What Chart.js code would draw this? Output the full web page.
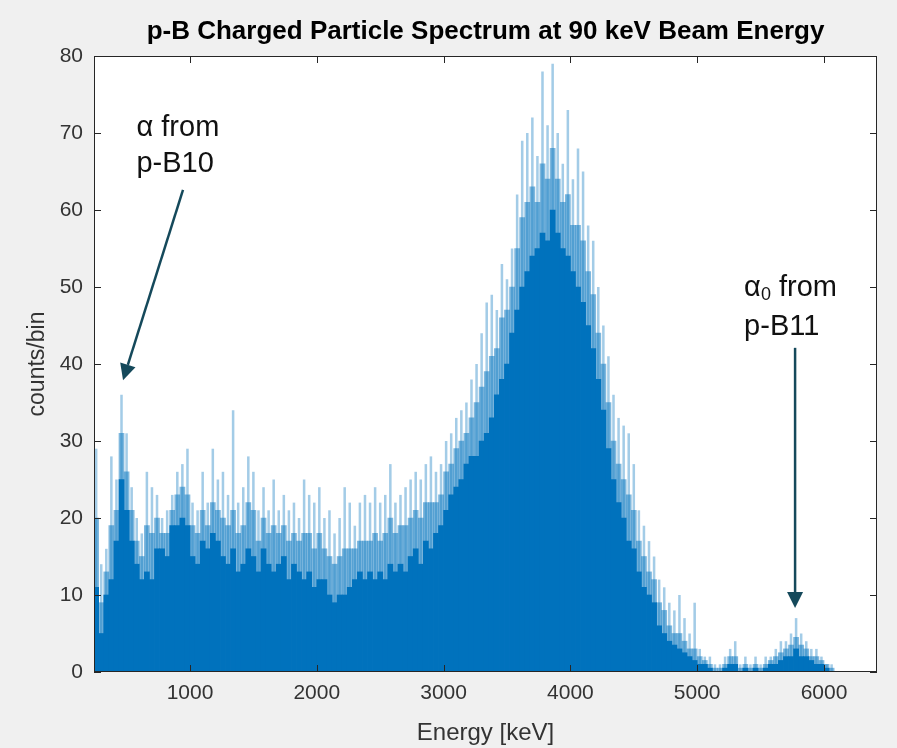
<!DOCTYPE html>
<html>
<head>
<meta charset="utf-8">
<script src="https://cdn.jsdelivr.net/npm/chart.js@4.4.1/dist/chart.umd.min.js"></script>
<style>
  html, body { margin: 0; padding: 0; background: #f0f0f0; }
  #wrap { width: 897px; height: 748px; }
</style>
</head>
<body>
<div id="wrap"><canvas id="spectrum" width="897" height="748"></canvas></div>
<script>
// histogram bins: 40 keV wide, first bin starts at 240 keV
const binStart = 240;
const binWidth = 40;

// solid part of each bin (counts/bin)
const bodyCounts = [
  11, 5, 10, 12, 17, 25, 21, 17, 14, 12, 13, 12, 16, 16, 15, 19, 19, 20, 19, 15,
  14, 17, 16, 18, 17, 15, 14, 16, 13, 14, 16, 15, 13, 16, 14, 13, 14, 15, 12, 14,
  13, 12, 13, 11, 12, 12, 10, 9, 10, 10, 11, 12, 13, 12, 13, 12, 13, 12, 14, 13,
  14, 13, 15, 16, 14, 17, 16, 18, 19, 21, 23, 24, 25, 27, 28, 28, 30, 31, 33, 36,
  38, 40, 44, 47, 50, 52, 54, 55, 57, 56, 60, 57, 55, 54, 52, 50, 48, 45, 42, 38,
  34, 29, 25, 22, 20, 17, 16, 13, 11, 10, 9, 6, 5, 4, 3.5, 3, 2.5, 2, 1.5, 1,
  1, 0.5, 0, 0, 0.5, 1, 1, 0, 0.5, 0, 0.5, 0, 0.5, 1, 1, 1.5, 2, 2, 3, 2,
  2, 1.5, 1, 1, 0.5, 0, 0
];

// typical upper level of the bins in each slot (counts/bin)
const midCounts = [
  20, 9, 13, 19, 21, 31, 26, 21, 17, 15, 19, 18, 20, 18, 18, 21, 23, 24, 23, 19,
  18, 21, 19, 22, 21, 20, 19, 21, 18, 19, 22, 21, 17, 20, 18, 19, 18, 19, 17, 18,
  17, 18, 18, 16, 18, 16, 15, 14, 15, 16, 16, 16, 17, 17, 17, 18, 17, 18, 20, 18,
  19, 19, 20, 21, 20, 22, 22, 22, 23, 26, 27, 29, 30, 31, 33, 35, 37, 39, 41, 42,
  46, 47, 50, 55, 59, 61, 63, 61, 66, 64, 68, 64, 61, 62, 58, 58, 56, 52, 49, 44,
  40, 35, 30, 27, 25, 23, 21, 17, 15, 13, 12, 9, 8, 6, 5, 5, 4, 3, 3, 2,
  1.5, 1, 0.5, 0.5, 1, 2, 2, 0.5, 1, 0.5, 1, 0.5, 1, 1.5, 2, 2.5, 3, 3.5, 4.5, 3.5,
  3, 2, 2, 1.5, 1, 0.5, 0
];

// tallest spike in each bin (counts/bin)
const peakCounts = [
  29, 14, 16, 28, 25, 36, 31, 24, 20, 18, 26, 24, 23, 20, 21, 23, 26, 27, 29, 22,
  21, 26, 22, 29, 25, 26, 23, 34, 22, 24, 28, 26, 21, 24, 21, 25, 21, 23, 21, 22,
  20, 25, 23, 22, 24, 20, 21, 18, 20, 24, 22, 19, 22, 23, 22, 24, 22, 23, 27, 22,
  23, 24, 25, 26, 25, 27, 28, 26, 27, 30, 31, 33, 34, 35, 38, 40, 44, 48, 49, 47,
  53, 51, 55, 62, 69, 70, 72, 67, 78, 71, 79, 70, 66, 73, 64, 68, 65, 58, 56, 50,
  45, 41, 36, 33, 32, 31, 27, 21, 19, 17, 15, 12, 11, 9, 8, 10, 7, 5, 9, 3,
  2, 2, 1, 1, 2, 3, 4, 1, 2, 1, 2, 1, 2, 2, 3, 4, 4, 5, 7, 5,
  4, 3, 3, 2, 1, 1, 0
];

const xTicks = [1000, 2000, 3000, 4000, 5000, 6000];
const yTicks = [0, 10, 20, 30, 40, 50, 60, 70, 80];

const toPoints = counts => counts.map((c, i) => ({ x: binStart + binWidth * (i + 0.5), y: c }));

const fontFamily = '"Liberation Sans", Arial, Helvetica, sans-serif';
const titleText = "p-B Charged Particle Spectrum at 90 keV Beam Energy";
const arrowColor = "#15495b";

// annotation anchors are in data units (keV, counts)
const notes = [
  { x: 578, y: [70.6, 66.0], sub: false, tag: "p-B10", from: [945, 62.6], to: [472, 37.9] },
  { x: 5370, y: [49.9, 44.8], sub: true, tag: "p-B11", from: [5772, 42.1], to: [5772, 8.3] }
];

const matlabAxes = {
  id: "matlabAxes",
  beforeDatasetsDraw(chart) {
    const { ctx, chartArea: a } = chart;
    ctx.save();
    ctx.fillStyle = "#ffffff";
    ctx.fillRect(a.left, a.top, a.right - a.left, a.bottom - a.top);
    ctx.restore();
  },
  afterDatasetsDraw(chart) {
    const { ctx, chartArea: a, scales } = chart;
    ctx.save();
    ctx.strokeStyle = "#262626";
    ctx.lineWidth = 1;
    ctx.strokeRect(a.left + 0.5, a.top + 0.5, a.right - a.left - 1, a.bottom - a.top - 1);
    ctx.beginPath();
    xTicks.forEach(t => {
      const px = Math.round(scales.x.getPixelForValue(t)) + 0.5;
      ctx.moveTo(px, a.bottom); ctx.lineTo(px, a.bottom - 7);
      ctx.moveTo(px, a.top); ctx.lineTo(px, a.top + 7);
    });
    yTicks.forEach(t => {
      const py = Math.round(scales.y.getPixelForValue(t)) + 0.5;
      ctx.moveTo(a.left, py); ctx.lineTo(a.left + 7, py);
      ctx.moveTo(a.right, py); ctx.lineTo(a.right - 7, py);
    });
    ctx.stroke();
    ctx.restore();
  },
  afterDraw(chart) {
    const { ctx, chartArea: a, scales } = chart;
    const sx = v => scales.x.getPixelForValue(v);
    const sy = v => scales.y.getPixelForValue(v);
    ctx.save();

    // title, centred over the axes box
    ctx.fillStyle = "#000000";
    ctx.textAlign = "center";
    ctx.textBaseline = "middle";
    ctx.font = "bold 26px " + fontFamily;
    ctx.fillText(titleText, (a.left + a.right) / 2, 32);

    ctx.fillStyle = "#111111";
    ctx.textAlign = "left";
    notes.forEach(n => {
      const x0 = sx(n.x);
      ctx.font = "29px " + fontFamily;
      ctx.fillText("α", x0, sy(n.y[0]));
      let x1 = x0 + ctx.measureText("α").width;
      if (n.sub) {
        ctx.font = "18px " + fontFamily;
        ctx.fillText("0", x1, sy(n.y[0]) + 7);
        x1 += ctx.measureText("0").width;
        ctx.font = "29px " + fontFamily;
      }
      ctx.fillText(" from", x1, sy(n.y[0]));
      ctx.fillText(n.tag, x0, sy(n.y[1]));

      // arrow
      const fx = sx(n.from[0]), fy = sy(n.from[1]);
      const tx = sx(n.to[0]), ty = sy(n.to[1]);
      const ang = Math.atan2(ty - fy, tx - fx);
      const head = 16, half = 8;
      const bx = tx - head * Math.cos(ang), by = ty - head * Math.sin(ang);
      ctx.strokeStyle = arrowColor;
      ctx.fillStyle = arrowColor;
      ctx.lineWidth = 2.5;
      ctx.beginPath();
      ctx.moveTo(fx, fy);
      ctx.lineTo(bx, by);
      ctx.stroke();
      ctx.beginPath();
      ctx.moveTo(tx, ty);
      ctx.lineTo(bx + half * Math.sin(ang), by - half * Math.cos(ang));
      ctx.lineTo(bx - half * Math.sin(ang), by + half * Math.cos(ang));
      ctx.closePath();
      ctx.fill();
      ctx.fillStyle = "#111111";
    });
    ctx.restore();
  }
};

const ctx = document.getElementById("spectrum").getContext("2d");

new Chart(ctx, {
  type: "bar",
  data: {
    datasets: [
      {
        label: "body",
        data: toPoints(bodyCounts),
        backgroundColor: "#0072bd",
        borderWidth: 0,
        barPercentage: 1,
        categoryPercentage: 1,
        order: 0
      },
      {
        label: "mid",
        data: toPoints(midCounts),
        backgroundColor: "rgba(0, 114, 189, 0.5)",
        borderWidth: 0,
        barPercentage: 1,
        categoryPercentage: 1,
        order: 1
      },
      {
        label: "spikes",
        data: toPoints(peakCounts),
        backgroundColor: "rgba(0, 114, 189, 0.36)",
        borderWidth: 0,
        barPercentage: 0.5,
        categoryPercentage: 1,
        order: 2
      }
    ]
  },
  options: {
    responsive: false,
    animation: false,
    grouped: false,
    layout: { padding: { left: 0, right: 20, top: 56, bottom: 0 } },
    plugins: {
      legend: { display: false },
      tooltip: { enabled: false },
      title: { display: false }
    },
    scales: {
      x: {
        type: "linear",
        offset: false,
        min: 243,
        max: 6418,
        grid: { display: false, drawTicks: false, offset: false },
        border: { display: false },
        afterBuildTicks: s => { s.ticks = xTicks.map(v => ({ value: v })); },
        afterFit: s => { s.height = 76; },
        ticks: {
          color: "#333333",
          font: { family: fontFamily, size: 21 },
          padding: 9,
          maxRotation: 0,
          callback: v => String(v)
        },
        title: {
          display: true,
          text: "Energy [keV]",
          color: "#333333",
          font: { family: fontFamily, size: 24 },
          padding: { top: 0, bottom: 0 }
        }
      },
      y: {
        min: 0,
        max: 80,
        grid: { display: false, drawTicks: false },
        border: { display: false },
        afterBuildTicks: s => { s.ticks = yTicks.map(v => ({ value: v })); },
        afterFit: s => { s.width = 94; },
        ticks: {
          color: "#333333",
          font: { family: fontFamily, size: 21 },
          padding: 11,
          callback: v => String(v)
        },
        title: {
          display: true,
          text: "counts/bin",
          color: "#333333",
          font: { family: fontFamily, size: 23 },
          padding: { top: 24, bottom: 0 }
        }
      }
    }
  },
  plugins: [matlabAxes]
});
</script>
</body>
</html>
